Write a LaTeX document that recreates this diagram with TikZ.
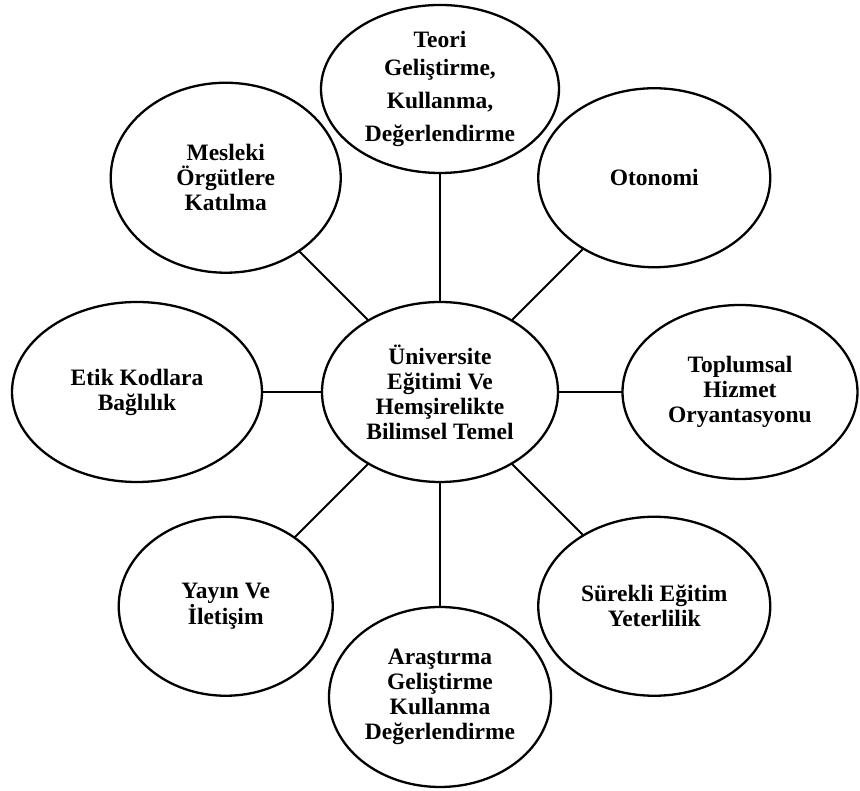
\documentclass[tikz,border=0pt]{standalone}
\usepackage{fontspec}
\setmainfont{Liberation Serif}
\usepackage{tikz}
\usetikzlibrary{shapes.geometric}

\begin{document}
\begin{tikzpicture}[
  font=\fontsize{23.5}{25}\selectfont\bfseries,
  bubble/.style={
    ellipse, draw=black, line width=2.3pt, fill=white,
    inner sep=0pt, outer sep=0pt, align=center,
    minimum width=232pt, minimum height=179pt
  },
  link/.style={line width=2pt, black}
]
\useasboundingbox (-440pt,-399pt) rectangle (420pt,392pt);

\node[bubble, minimum width=236pt, minimum height=180pt] (uni) at (0,0)
  {Üniversite\\Eğitimi Ve\\Hemşirelikte\\Bilimsel Temel};

\node[bubble, minimum width=238pt, minimum height=168pt] (teori) at (90:303pt)
  {Teori\\[3pt]Geliştirme,\\[8pt]Kullanma,\\[8pt]Değerlendirme};
\node[bubble] (otonomi) at (45:303pt)
  {Otonomi};
\node[bubble, minimum width=235pt, minimum height=174pt] (toplum) at (0:300pt)
  {Toplumsal\\Hizmet\\Oryantasyonu};
\node[bubble] (surekli) at (-45:303pt)
  {Sürekli Eğitim\\Yeterlilik};
\node[bubble, minimum width=222pt, minimum height=180pt] (arastirma) at (-90:305pt)
  {Araştırma\\Geliştirme\\Kullanma\\Değerlendirme};
\node[bubble, minimum width=214pt] (yayin) at (-135:303pt)
  {Yayın Ve\\İletişim};
\node[bubble, minimum width=250pt, minimum height=180pt] (etik) at (180:303pt)
  {Etik Kodlara\\Bağlılık};
\node[bubble, minimum width=230pt, minimum height=190pt] (mesleki) at (135:303pt)
  {Mesleki\\Örgütlere\\Katılma};

% spokes
\draw[link] (uni) -- (teori);
\draw[link] (uni) -- (otonomi);
\draw[link] (uni) -- (toplum);
\draw[link] (uni) -- (surekli);
\draw[link] (uni) -- (arastirma);
\draw[link] (uni) -- (yayin);
\draw[link] (uni) -- (etik);
\draw[link] (uni) -- (mesleki);
\end{tikzpicture}
\end{document}
